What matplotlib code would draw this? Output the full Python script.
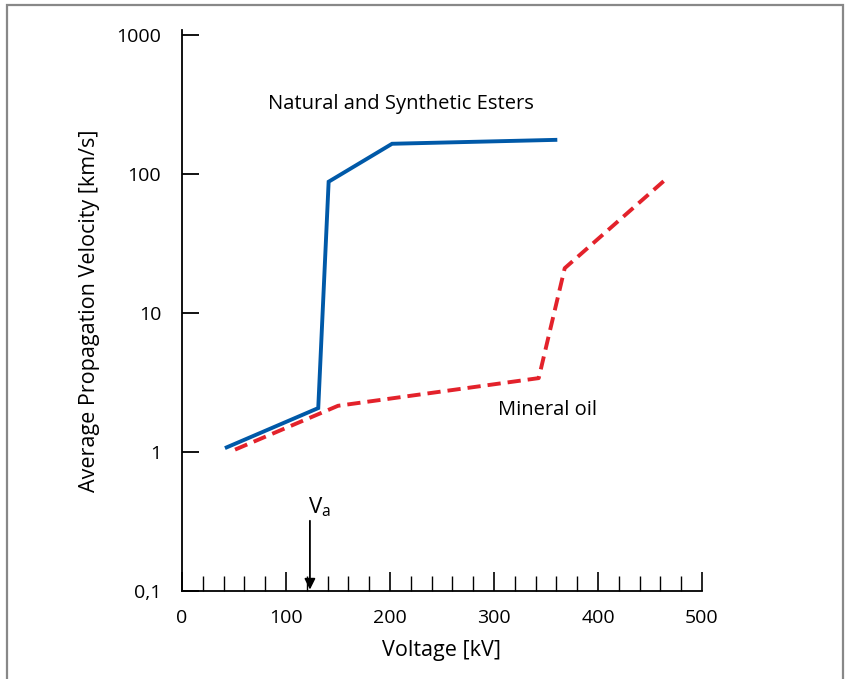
import numpy as np
import matplotlib.pyplot as plt
from matplotlib.patches import Rectangle
from matplotlib.ticker import FixedLocator, MultipleLocator

plt.rcParams['font.family'] = ['Open Sans', 'DejaVu Sans']

# data
ester_kv = [43, 131, 141, 202, 359]
ester_v = [1.08, 2.07, 88, 165, 176]
oil_kv = [51, 150, 343, 368, 464]
oil_v = [1.04, 2.15, 3.4, 21, 90]

yticks = [0.1, 1, 10, 100, 1000]
ylabels = ['0,1', '1', '10', '100', '1000']
xticks = [0, 100, 200, 300, 400, 500]

fig = plt.figure(figsize=(8.48, 6.79), dpi=100)
W, H = 848, 679
ax = fig.add_axes([182/W, 88/H, 520/W, 561/H])

# gray frame round the figure
fig.patches.append(Rectangle((7/W, -0.05), 836/W, 1.05 - 4.5/H, transform=fig.transFigure,
                             fill=False, edgecolor='#888888', linewidth=1.6))

ax.plot(ester_kv, ester_v, color='#0059a8', linewidth=2.8, solid_joinstyle='miter')
ax.plot(oil_kv, oil_v, color='#e3222b', linewidth=2.8, dashes=(3.4, 1.8))

ax.set_yscale('log')
ax.set_xlim(0, 500)
ax.set_ylim(0.1, 10**(3 + 5/139))

ax.spines['top'].set_visible(False)
ax.spines['right'].set_visible(False)
ax.spines['left'].set_linewidth(1.3)
ax.spines['bottom'].set_linewidth(1.3)

ax.yaxis.set_major_locator(FixedLocator(yticks))
ax.yaxis.set_minor_locator(FixedLocator([]))
ax.set_yticklabels(ylabels)
ax.set_xticks(xticks)
ax.xaxis.set_minor_locator(MultipleLocator(20))
ax.tick_params(axis='y', direction='in', length=12, width=1.3, pad=15, labelsize=14)
ax.tick_params(axis='x', which='major', direction='in', length=14, width=1.2, pad=13, labelsize=14)
ax.tick_params(axis='x', which='minor', direction='in', length=11, width=1.0)

ax.set_xlabel('Voltage [kV]', fontsize=15.5, labelpad=9)
ax.set_ylabel('Average Propagation Velocity [km/s]', fontsize=15.5, labelpad=12)

ax.text(83, 320, 'Natural and Synthetic Esters', fontsize=14.5, va='center', ha='left')
ax.text(304, 2.0, 'Mineral oil', fontsize=14.5, va='center', ha='left')

# V_a arrow
ax.annotate('', xy=(123, 0.1), xytext=(123, 0.32),
            arrowprops=dict(arrowstyle='-|>', color='black', lw=1.3, mutation_scale=16,
                            shrinkA=0, shrinkB=1))
ax.text(121, 0.33, r'V$_\mathregular{a}$', fontsize=16, va='bottom', ha='left')

fig.savefig('out.png', dpi=100)
